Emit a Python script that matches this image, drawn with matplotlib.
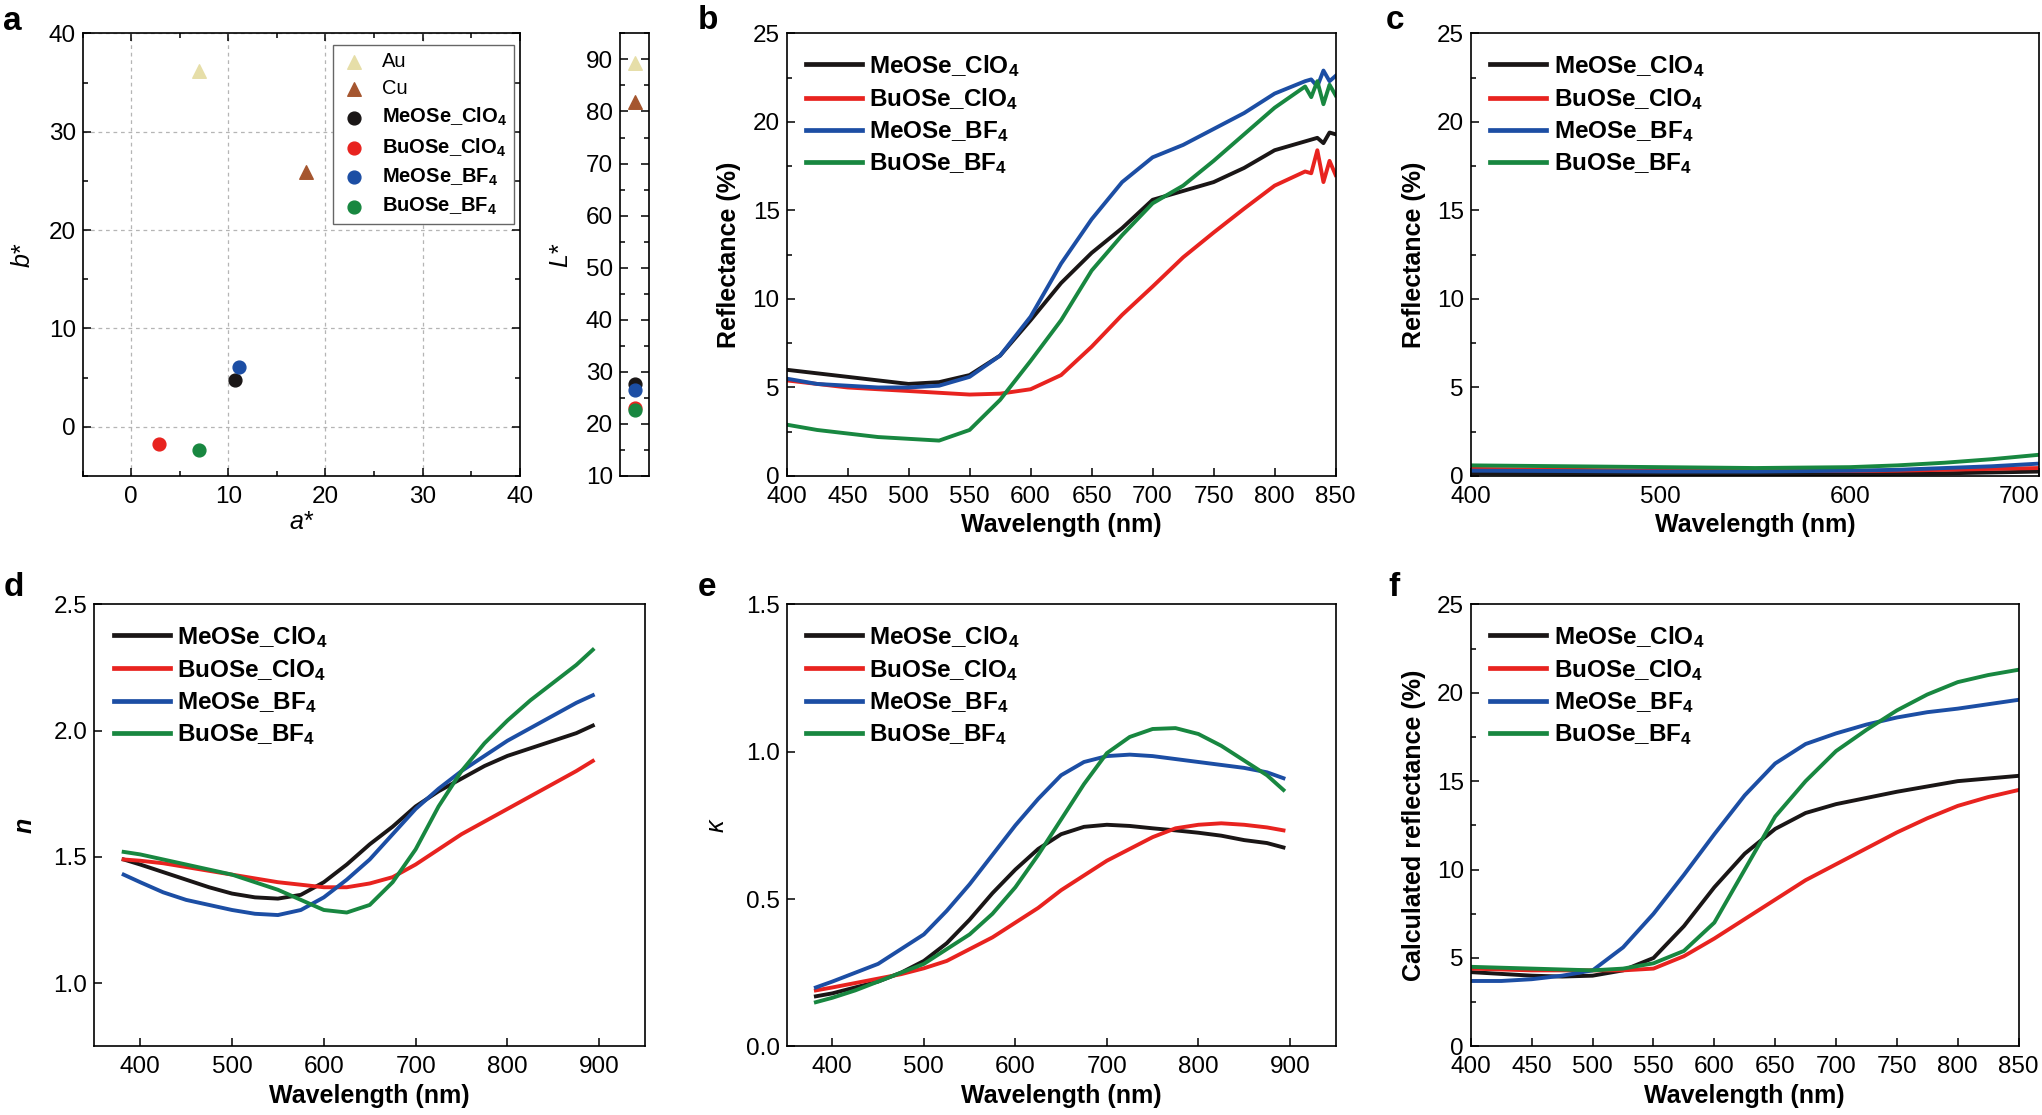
import matplotlib
matplotlib.use("Agg")
import matplotlib.pyplot as plt
from matplotlib.ticker import MultipleLocator

plt.rcParams['font.family'] = ['Liberation Sans', 'DejaVu Sans']
plt.rcParams['mathtext.fontset'] = 'custom'
plt.rcParams['mathtext.rm'] = 'Liberation Sans'
plt.rcParams['mathtext.bf'] = 'Liberation Sans:bold'
plt.rcParams['mathtext.it'] = 'Liberation Sans:italic'
plt.rcParams['axes.linewidth'] = 1.2

# ---- data --------------------------------------------------------------
names = ['MeOSe_ClO$_\\mathbf{4}$', 'BuOSe_ClO$_\\mathbf{4}$',
         'MeOSe_BF$_\\mathbf{4}$', 'BuOSe_BF$_\\mathbf{4}$']
colors = ['#1a1616', '#e8231f', '#1c4ea4', '#188740']

# panel a: CIELAB
metal_names = ['Au', 'Cu']
metal_colors = ['#e6dea8', '#a5562f']
metal_a = [7.0, 18.0]
metal_b = [36.2, 25.9]
metal_L = [89.3, 81.9]
film_a = [10.7, 2.9, 11.1, 7.0]
film_b = [4.8, -1.7, 6.1, -2.4]
film_L = [27.7, 23.0, 26.5, 22.6]

# panel b: measured reflectance (%)
wl_b = [400, 425, 450, 475, 500, 525, 550, 575, 600, 625, 650, 675, 700,
        725, 750, 775, 800, 825, 830, 835, 840, 845, 850]
refl_b = [
    [6.0, 5.8, 5.6, 5.4, 5.2, 5.3, 5.7, 6.8, 8.8, 10.9, 12.6, 14.0, 15.6,
     16.1, 16.6, 17.4, 18.4, 18.9, 19.0, 19.1, 18.8, 19.4, 19.3],
    [5.4, 5.2, 5.0, 4.9, 4.8, 4.7, 4.6, 4.65, 4.9, 5.7, 7.3, 9.1, 10.7,
     12.35, 13.75, 15.1, 16.4, 17.2, 17.1, 18.4, 16.6, 17.8, 17.0],
    [5.5, 5.2, 5.1, 5.0, 5.0, 5.1, 5.6, 6.8, 9.0, 12.0, 14.5, 16.6, 18.0,
     18.7, 19.6, 20.5, 21.6, 22.3, 22.4, 22.0, 22.9, 22.3, 22.6],
    [2.9, 2.6, 2.4, 2.2, 2.1, 2.0, 2.6, 4.3, 6.5, 8.8, 11.6, 13.6, 15.4,
     16.4, 17.8, 19.3, 20.8, 22.0, 21.4, 22.3, 21.0, 22.1, 21.5],
]

# panel c: measured reflectance (%)
wl_c = [400, 450, 500, 550, 600, 625, 650, 675, 700]
refl_c = [
    [0.15, 0.12, 0.10, 0.10, 0.10, 0.12, 0.15, 0.20, 0.25],
    [0.40, 0.35, 0.30, 0.28, 0.28, 0.30, 0.35, 0.40, 0.45],
    [0.30, 0.28, 0.25, 0.25, 0.30, 0.35, 0.45, 0.55, 0.70],
    [0.60, 0.55, 0.50, 0.45, 0.50, 0.60, 0.75, 0.95, 1.20],
]
ticks_c = [400, 500, 600, 700]

# panels d, e: optical constants
wl_de = [382, 400, 425, 450, 475, 500, 525, 550, 575, 600, 625, 650, 675,
         700, 725, 750, 775, 800, 825, 850, 875, 893]
n_vals = [
    [1.49, 1.47, 1.44, 1.41, 1.38, 1.355, 1.34, 1.335, 1.35, 1.40, 1.47, 1.55,
     1.62, 1.70, 1.76, 1.81, 1.86, 1.90, 1.93, 1.96, 1.99, 2.02],
    [1.49, 1.485, 1.475, 1.46, 1.445, 1.43, 1.415, 1.40, 1.39, 1.38, 1.38,
     1.395, 1.42, 1.47, 1.53, 1.59, 1.64, 1.69, 1.74, 1.79, 1.84, 1.88],
    [1.43, 1.40, 1.36, 1.33, 1.31, 1.29, 1.275, 1.27, 1.29, 1.34, 1.41, 1.49,
     1.59, 1.69, 1.77, 1.84, 1.90, 1.96, 2.01, 2.06, 2.11, 2.14],
    [1.52, 1.51, 1.49, 1.47, 1.45, 1.43, 1.40, 1.37, 1.33, 1.29, 1.28, 1.31,
     1.40, 1.53, 1.70, 1.84, 1.95, 2.04, 2.12, 2.19, 2.26, 2.32],
]
k_vals = [
    [0.17, 0.18, 0.20, 0.22, 0.25, 0.29, 0.35, 0.43, 0.52, 0.60, 0.67, 0.72,
     0.745, 0.752, 0.748, 0.74, 0.733, 0.725, 0.715, 0.70, 0.69, 0.675],
    [0.19, 0.20, 0.215, 0.23, 0.245, 0.265, 0.29, 0.33, 0.37, 0.42, 0.47,
     0.53, 0.58, 0.63, 0.67, 0.71, 0.74, 0.752, 0.757, 0.752, 0.743, 0.733],
    [0.20, 0.22, 0.25, 0.28, 0.33, 0.38, 0.46, 0.55, 0.65, 0.75, 0.84, 0.92,
     0.965, 0.985, 0.99, 0.985, 0.975, 0.965, 0.955, 0.945, 0.93, 0.91],
    [0.15, 0.165, 0.19, 0.22, 0.25, 0.28, 0.33, 0.38, 0.45, 0.54, 0.65, 0.77,
     0.89, 0.995, 1.05, 1.077, 1.08, 1.06, 1.02, 0.97, 0.92, 0.87],
]

# panel f: calculated reflectance (%)
wl_f = [400, 425, 450, 475, 500, 525, 550, 575, 600, 625, 650, 675, 700,
        725, 750, 775, 800, 825, 850]
refl_f = [
    [4.2, 4.1, 4.0, 3.95, 4.0, 4.3, 5.0, 6.8, 9.0, 10.9, 12.3, 13.2, 13.7,
     14.05, 14.4, 14.7, 15.0, 15.15, 15.3],
    [4.4, 4.35, 4.3, 4.3, 4.3, 4.3, 4.4, 5.1, 6.1, 7.2, 8.3, 9.4, 10.3,
     11.2, 12.1, 12.9, 13.6, 14.1, 14.5],
    [3.7, 3.7, 3.8, 4.0, 4.3, 5.6, 7.5, 9.7, 12.0, 14.2, 16.0, 17.1, 17.7,
     18.2, 18.6, 18.9, 19.1, 19.35, 19.6],
    [4.5, 4.45, 4.4, 4.35, 4.3, 4.4, 4.7, 5.4, 7.0, 10.0, 13.0, 15.0, 16.7,
     17.9, 19.0, 19.9, 20.6, 21.0, 21.3],
]

# ---- layout (reference pixel frame 1568 x 855) -------------------------
W, H = 1568.0, 855.0
fig = plt.figure(figsize=(20.42, 11.15), dpi=100)


def add_ax(l, r, t, b):
    return fig.add_axes([l / W, 1 - b / H, (r - l) / W, (b - t) / H])


TICK = 17.5
LAB = 18
LEG = 17.5
LW = 2.8


def style(ax, minor_y=None):
    ax.tick_params(which='both', direction='in', labelsize=TICK, width=1.1)
    ax.tick_params(which='major', length=6)
    ax.tick_params(which='minor', length=3.5)
    ax.tick_params(axis='x', pad=7)
    ax.tick_params(axis='y', pad=5)
    if minor_y:
        ax.yaxis.set_minor_locator(MultipleLocator(minor_y))


def leg(ax):
    lg = ax.legend(loc='upper left', frameon=False,
                   handlelength=2.3, handletextpad=0.3, labelspacing=0.3,
                   borderaxespad=0.4, prop={'weight': 'bold', 'size': LEG})
    for h in lg.get_lines():
        h.set_linewidth(3.4)
    return lg


# a : a*-b*
ax_a = add_ax(63.5, 399, 25.6, 365)
for i in range(2):
    ax_a.scatter(metal_a[i], metal_b[i], marker='^', s=95, color=metal_colors[i],
                 label=metal_names[i], zorder=3)
for i in range(4):
    ax_a.scatter(film_a[i], film_b[i], marker='o', s=85, color=colors[i],
                 label=names[i], zorder=3)
ax_a.set_xlim(-5, 40)
ax_a.set_ylim(-5, 40)
ax_a.xaxis.set_major_locator(MultipleLocator(10))
ax_a.yaxis.set_major_locator(MultipleLocator(10))
ax_a.xaxis.set_minor_locator(MultipleLocator(5))
ax_a.yaxis.set_minor_locator(MultipleLocator(5))
style(ax_a)
ax_a.tick_params(which='both', top=True, right=True)
ax_a.grid(True, which='major', linestyle=(0, (3, 3)), color='#b5b5b5', lw=0.9)
ax_a.set_xlabel('a*', fontsize=LAB, style='italic', labelpad=2)
ax_a.set_ylabel('b*', fontsize=LAB, style='italic', labelpad=10)
lg = ax_a.legend(loc='upper right', bbox_to_anchor=(0.988, 0.974),
                 borderaxespad=0, fontsize=14.5, fancybox=False,
                 edgecolor='#666666', framealpha=1, handletextpad=0.7,
                 labelspacing=0.4, handlelength=1.4, borderpad=0.35)
lg.get_frame().set_linewidth(1.0)
for t in lg.get_texts()[2:]:
    t.set_fontweight('bold')

# a : L*
ax_L = add_ax(476, 498.7, 25.6, 365)
for i in range(2):
    ax_L.scatter(0.5, metal_L[i], marker='^', s=95, color=metal_colors[i], zorder=3)
for i in range(4):
    ax_L.scatter(0.5, film_L[i], marker='o', s=85, color=colors[i], zorder=3)
ax_L.set_xlim(0, 1)
ax_L.set_ylim(10, 95)
ax_L.set_xticks([])
ax_L.yaxis.set_major_locator(MultipleLocator(10))
style(ax_L, 5)
ax_L.tick_params(which='both', right=True)
ax_L.set_ylabel('L*', fontsize=LAB, style='italic', labelpad=10)

# b
ax_b = add_ax(604, 1025.6, 25.6, 365)
for i in range(4):
    ax_b.plot(wl_b, refl_b[i], color=colors[i], lw=LW, label=names[i])
ax_b.set_xlim(400, 850)
ax_b.set_ylim(0, 25)
ax_b.xaxis.set_major_locator(MultipleLocator(50))
style(ax_b, 2.5)
ax_b.set_xlabel('Wavelength (nm)', fontsize=LAB, fontweight='bold')
ax_b.set_ylabel('Reflectance (%)', fontsize=LAB, fontweight='bold', labelpad=8)
leg(ax_b)

# c
ax_c = add_ax(1129.5, 1566, 25.6, 365)
for i in range(4):
    ax_c.plot(wl_c, refl_c[i], color=colors[i], lw=LW, label=names[i])
ax_c.set_xlim(400, 700)
ax_c.set_ylim(0, 25)
ax_c.set_xticks(ticks_c, labels=[str(t) for t in ticks_c])
style(ax_c, 2.5)
ax_c.set_xlabel('Wavelength (nm)', fontsize=LAB, fontweight='bold')
ax_c.set_ylabel('Reflectance (%)', fontsize=LAB, fontweight='bold', labelpad=8)
leg(ax_c)

# d
ax_d = add_ax(72.4, 495.4, 463.4, 802.4)
for i in range(4):
    ax_d.plot(wl_de, n_vals[i], color=colors[i], lw=LW, label=names[i])
ax_d.set_xlim(350, 950)
ax_d.set_ylim(0.75, 2.5)
ax_d.xaxis.set_major_locator(MultipleLocator(100))
ax_d.set_yticks([1.0, 1.5, 2.0, 2.5])
ax_d.set_yticklabels(['1.0', '1.5', '2.0', '2.5'])
style(ax_d)
ax_d.set_xlabel('Wavelength (nm)', fontsize=LAB, fontweight='bold')
ax_d.set_ylabel('n', fontsize=LAB, fontweight='bold', style='italic', labelpad=12)
leg(ax_d)

# e
ax_e = add_ax(604, 1025.6, 463.4, 802.4)
for i in range(4):
    ax_e.plot(wl_de, k_vals[i], color=colors[i], lw=LW, label=names[i])
ax_e.set_xlim(350, 950)
ax_e.set_ylim(0, 1.5)
ax_e.xaxis.set_major_locator(MultipleLocator(100))
ax_e.set_yticks([0.0, 0.5, 1.0, 1.5])
ax_e.set_yticklabels(['0.0', '0.5', '1.0', '1.5'])
style(ax_e)
ax_e.set_xlabel('Wavelength (nm)', fontsize=LAB, fontweight='bold')
ax_e.set_ylabel('κ', fontsize=LAB, style='italic', labelpad=12)
leg(ax_e)

# f
ax_f = add_ax(1129.5, 1550, 463.4, 802.4)
for i in range(4):
    ax_f.plot(wl_f, refl_f[i], color=colors[i], lw=LW, label=names[i])
ax_f.set_xlim(400, 850)
ax_f.set_ylim(0, 25)
ax_f.xaxis.set_major_locator(MultipleLocator(50))
style(ax_f, 2.5)
ax_f.set_xlabel('Wavelength (nm)', fontsize=LAB, fontweight='bold')
ax_f.set_ylabel('Calculated reflectance (%)', fontsize=LAB, fontweight='bold',
                labelpad=8)
leg(ax_f)

# panel letters
for letter, x, y in [('a', 2.5, 23), ('b', 536, 22), ('c', 1064, 22),
                     ('d', 2.5, 457), ('e', 536, 457), ('f', 1066, 457)]:
    fig.text(x / W, 1 - y / H, letter, fontsize=24, fontweight='bold',
             ha='left', va='baseline')

# keep the last tick label of c inside the figure edge
fig.canvas.draw()
ax_c.xaxis.get_major_ticks()[-1].label1.set_horizontalalignment('right')

fig.savefig('out.png', dpi=100)
